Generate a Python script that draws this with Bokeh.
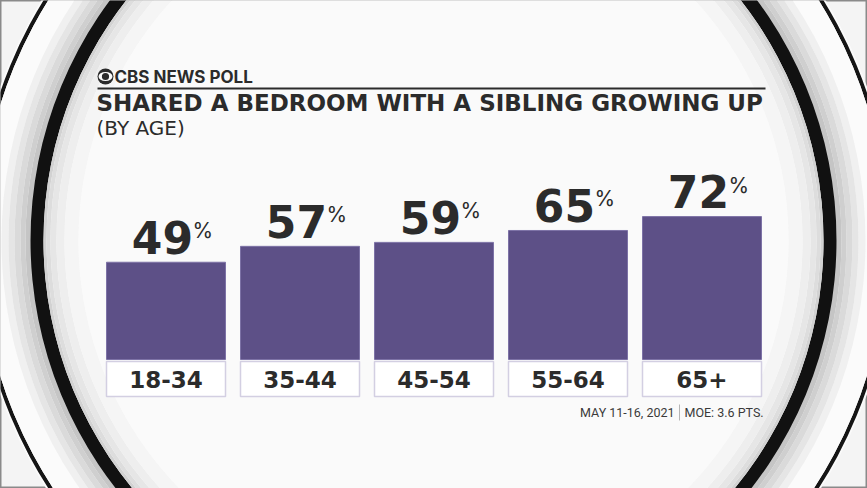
from bokeh.plotting import figure
from bokeh.models import Range1d, ColumnDataSource
from bokeh.core.properties import value
from bokeh.embed import file_html
from bokeh.resources import INLINE

# ---------------- data ----------------
categories = ["18-34", "35-44", "45-54", "55-64", "65+"]
values = [49, 57, 59, 65, 72]
title = "SHARED A BEDROOM WITH A SIBLING GROWING UP"
subtitle = "(BY AGE)"
brand = "CBS NEWS POLL"
footer_date = "MAY 11-16, 2021"
footer_moe = "MOE: 3.6 PTS."

# ---------------- layout constants (pixels) ----------------
W, H = 867, 488
X0, DX = 165.5, 134.0      # pixel of first category centre, pixel pitch
Y0, SY = 359.0, 1.985      # pixel of 0 %, pixels per percent
BAR_W = 119.0

def px(x):
    return (x - X0) / DX

def py(y):
    return (Y0 - y) / SY

HEAVY = value("DejaVu Sans")
FONT = value("Inter")
DARK = "#2b2b2b"
PURPLE = "#5d5087"

p = figure(width=W, height=H, output_backend="svg", toolbar_location=None,
           x_range=Range1d(px(0), px(W)), y_range=Range1d(py(H), py(0)),
           x_axis_location=None, y_axis_location=None, min_border=0,
           background_fill_color="#f4f4f4", border_fill_color="#f4f4f4")
p.grid.visible = False
p.outline_line_color = "#8a8a8a"
p.outline_line_width = 2

# ---------------- background ring decoration ----------------
CX, CY = px(433), py(240)
def ring(r_in, r_out, color):
    p.annulus(x=CX, y=CY, inner_radius=r_in, outer_radius=r_out,
              inner_radius_units="screen", outer_radius_units="screen",
              fill_color=color, line_color=None)

ring(0, 460, "#fafafa")
ring(454, 458, "#151515")
outer_steps = [(432, 454, "#fbfbfb"), (425, 432, "#f0f0f0"), (419, 425, "#e5e5e5"),
               (413, 419, "#dadada"), (408, 413, "#cfcfcf"), (402, 408, "#c5c5c5")]
for a, b, c in outer_steps:
    ring(a, b, c)
ring(390, 403, "#111111")
inner_steps = [(387, 390, "#d2d2d2"), (383, 387, "#dddddd"), (377, 383, "#e6e6e6"),
               (369, 377, "#eeeeee"), (355, 369, "#f5f5f5")]
for a, b, c in inner_steps:
    ring(a, b, c)
ring(0, 355, "#fafafa")

# ---------------- header ----------------
p.circle(x=px(105), y=py(76), radius=8, radius_units="screen",
         fill_color=DARK, line_color=None)
p.ellipse(x=px(105), y=py(76), width=14, height=9, width_units="screen",
          height_units="screen", fill_color="#fafafa", line_color=None)
p.circle(x=px(105), y=py(76), radius=3.6, radius_units="screen",
         fill_color=DARK, line_color=None)
p.text(x=[px(114)], y=[py(76)], text=[brand], text_font=FONT, text_font_style="bold",
       text_font_size="17px", text_color=DARK, text_align="left",
       text_baseline="middle")
p.segment(x0=px(97), y0=py(88), x1=px(765), y1=py(88), line_color=DARK, line_width=2)
p.text(x=[px(96)], y=[py(102)], text=[title], text_font=HEAVY, text_font_style="bold",
       text_font_size="23px", text_color=DARK, text_align="left",
       text_baseline="middle")
p.text(x=[px(96)], y=[py(127)], text=[subtitle], text_font=HEAVY,
       text_font_size="20px", text_color=DARK, text_align="left",
       text_baseline="middle")

# ---------------- bars ----------------
idx = list(range(len(categories)))
src = ColumnDataSource(dict(
    x=idx, top=values, cat=categories,
    num=[str(v) for v in values], pct=["%"] * len(values),
    num_x=[i + 27 / DX for i in idx], pct_x=[i + 26.5 / DX for i in idx],
    num_y=[v + 25 / SY for v in values], pct_y=[v + 31.5 / SY for v in values],
))
bw = BAR_W / DX
p.vbar(x="x", top="top", bottom=0, width=bw, source=src,
       fill_color=PURPLE, line_color="#7d72a6", line_width=1)

p.vbar(x="x", top=py(361), bottom=py(396), width=bw, source=src,
       fill_color="#ffffff", line_color="#d3cfe2", line_width=1.5)
p.text(x="x", y=py(379), text="cat", source=src, text_font=HEAVY,
       text_font_style="bold", text_font_size="23px", text_color=DARK,
       text_align="center", text_baseline="middle")

p.text(x="num_x", y="num_y", text="num", source=src, text_font=HEAVY,
       text_font_style="bold", text_font_size="44px", text_color=DARK,
       text_align="right", text_baseline="middle")
p.text(x="pct_x", y="pct_y", text="pct", source=src, text_font=FONT,
       text_font_size="21px", text_color=DARK,
       text_align="left", text_baseline="middle")

# ---------------- footer ----------------
p.text(x=[px(674)], y=[py(412)], text=[footer_date], text_font=value("Roboto"),
       text_font_size="12.5px", text_color="#3a3a3a", text_align="right",
       text_baseline="middle")
p.segment(x0=px(679), y0=py(404), x1=px(679), y1=py(420), line_color="#b5b5b5",
          line_width=1)
p.text(x=[px(684)], y=[py(412)], text=[footer_moe], text_font=value("Roboto"),
       text_font_size="12.5px", text_color="#3a3a3a", text_align="left",
       text_baseline="middle")

open("out.html", "w").write(file_html(p, INLINE))
